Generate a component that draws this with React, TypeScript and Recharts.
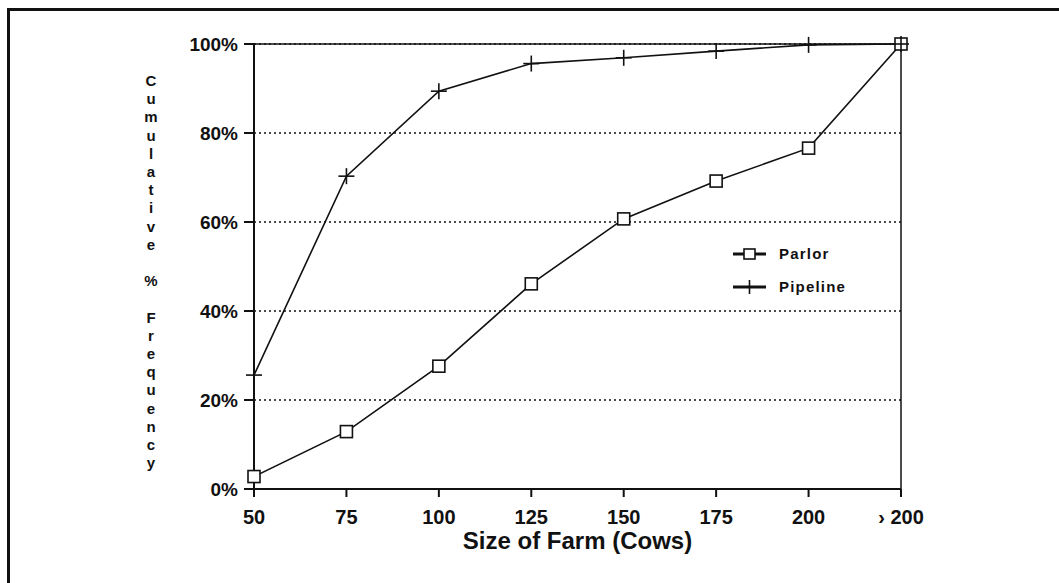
import React from 'react';
import { LineChart, Line, XAxis, YAxis, CartesianGrid, ReferenceLine } from 'recharts';

const farmSizes = ['50', '75', '100', '125', '150', '175', '200', '› 200'];
const parlor = [2.8, 12.9, 27.6, 46.1, 60.7, 69.2, 76.6, 100];
const pipeline = [25.6, 70.3, 89.4, 95.6, 96.9, 98.4, 99.8, 100];
const yTicks = [0, 20, 40, 60, 80, 100];
const yTitle = 'Cumulative % Frequency';
const legendItems = [
    { name: 'Parlor', kind: 'square' },
    { name: 'Pipeline', kind: 'plus' },
];

const chartData = farmSizes.map((size, i) => ({
    size,
    parlor: parlor[i],
    pipeline: pipeline[i],
}));

const FONT = '"Liberation Sans", Arial, sans-serif';
const INK = '#111';

const SquareDot = (props: any) => {
    const { cx, cy } = props;
    if (cx == null || cy == null) return null;
    return <rect x={cx - 6} y={cy - 6} width={12} height={12} fill="#fff" stroke={INK} strokeWidth={1.6} />;
};

const PlusDot = (props: any) => {
    const { cx, cy } = props;
    if (cx == null || cy == null) return null;
    return (
        <g stroke={INK} strokeWidth={1.6}>
            <line x1={cx - 8} y1={cy} x2={cx + 8} y2={cy} />
            <line x1={cx} y1={cy - 8} x2={cx} y2={cy + 8} />
        </g>
    );
};

// letters stacked one per line, like the old plotter output
const StackedTitle = () => {
    const letters = yTitle.split('');
    return (
        <text x={151} y={86} textAnchor="middle" fontFamily={FONT} fontWeight="bold" fontSize={15} fill={INK}>
            {letters.map((ch, i) => (
                <tspan key={i} x={151} y={86 + i * 18.2}>{ch === ' ' ? '\u00a0' : ch}</tspan>
            ))}
        </text>
    );
};

const LegendBox = () => (
    <div style={{ position: 'absolute', top: 237, left: 731, fontFamily: FONT, fontWeight: 'bold', fontSize: 15, letterSpacing: 1.2, color: INK }}>
        {legendItems.map(item => (
            <div key={item.name} style={{ display: 'flex', alignItems: 'center', height: 33 }}>
                <svg width={40} height={20}>
                    <line x1={2} y1={10} x2={35} y2={10} stroke={INK} strokeWidth={3} />
                    {item.kind === 'square'
                        ? <rect x={13} y={5} width={11} height={10} fill="#fff" stroke={INK} strokeWidth={1.6} />
                        : <line x1={18.5} y1={3} x2={18.5} y2={17} stroke={INK} strokeWidth={1.6} />}
                </svg>
                <span style={{ marginLeft: 8 }}>{item.name}</span>
            </div>
        ))}
    </div>
);

export default function App() {
    return (
        <div style={{ position: 'absolute', top: 0, left: 0, width: 1059, height: 583, overflow: 'hidden', background: '#fff' }}>
            <div style={{ position: 'absolute', top: 8, left: 7, width: 1200, height: 700, borderTop: `3px solid ${INK}`, borderLeft: `3px solid ${INK}` }} />
            <LineChart
                width={1059}
                height={583}
                data={chartData}
                margin={{ top: 44, right: 158, left: 194, bottom: 34 }}
                style={{ position: 'absolute', top: 0, left: 0 }}
            >
                <CartesianGrid horizontal vertical={false} stroke={INK} strokeDasharray="2 3" strokeWidth={1.3} />
                <XAxis
                    dataKey="size"
                    height={60}
                    stroke={INK}
                    strokeWidth={2}
                    tickSize={8}
                    tickMargin={13}
                    interval={0}
                    tick={{ fill: INK, fontFamily: FONT, fontWeight: 'bold', fontSize: 20 }}
                    label={{ value: 'Size of Farm (Cows)', position: 'insideBottom', offset: 0, fill: INK, fontFamily: FONT, fontWeight: 'bold', fontSize: 24 }}
                />
                <YAxis
                    width={60}
                    domain={[0, 100]}
                    ticks={yTicks}
                    stroke={INK}
                    strokeWidth={2}
                    tickSize={10}
                    tickMargin={6}
                    tickFormatter={(v) => `${v}%`}
                    tick={{ fill: INK, fontFamily: FONT, fontWeight: 'bold', fontSize: 19 }}
                    label={<StackedTitle />}
                />
                <ReferenceLine y={100} stroke={INK} strokeWidth={1.5} />
                <ReferenceLine x="› 200" stroke={INK} strokeWidth={1.5} />
                <Line dataKey="parlor" name="Parlor" stroke={INK} strokeWidth={1.6} dot={<SquareDot />} isAnimationActive={false} />
                <Line dataKey="pipeline" name="Pipeline" stroke={INK} strokeWidth={1.6} dot={<PlusDot />} isAnimationActive={false} />
            </LineChart>
            <LegendBox />
        </div>
    );
}
